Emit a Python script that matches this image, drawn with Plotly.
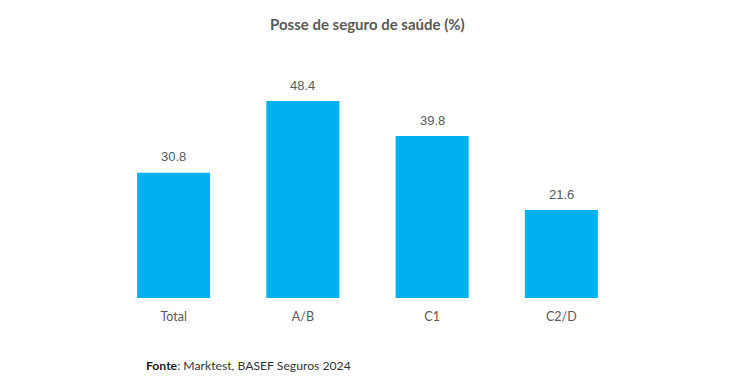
import plotly.graph_objects as go

categories = ["Total", "A/B", "C1", "C2/D"]
values = [30.8, 48.4, 39.8, 21.6]
value_labels = ["30.8", "48.4", "39.8", "21.6"]

L, R, T, B = 109, 114, 60, 91
W, H = 740, 389
pw, ph = W - L - R, H - T - B

fig = go.Figure()
fig.add_trace(go.Bar(
    x=categories, y=values,
    marker=dict(color="#00B0F0", line=dict(width=0)),
    hoverinfo="skip",
))

annotations = []
for c, v, t in zip(categories, values, value_labels):
    annotations.append(dict(
        x=c, y=v, xref="x", yref="y", text=t, showarrow=False,
        yanchor="middle", yshift=16,
        font=dict(family="Liberation Sans, Arial", size=13, color="#595959")))

annotations.append(dict(
    text="<b>Posse de seguro de saúde (%)</b>",
    x=(367 - L) / pw, y=(H - 24 - B) / ph, xanchor="center", yanchor="middle",
    xref="paper", yref="paper", showarrow=False,
    font=dict(family="Lato", size=15, color="#595959")))
annotations.append(dict(
    text="<b><span style='color:#1a1a1a'>Fonte</span></b>: Marktest, BASEF Seguros 2024",
    x=(144 - L) / pw, y=(H - 366 - B) / ph, xanchor="left", yanchor="middle",
    xref="paper", yref="paper", showarrow=False,
    font=dict(family="Lato", size=12.2, color="#333333")))

fig.update_layout(
    width=W, height=H,
    margin=dict(l=L, r=R, t=T, b=B),
    paper_bgcolor="white", plot_bgcolor="white",
    bargap=0.435,
    showlegend=False,
    hovermode=False,
    xaxis=dict(showline=False, showgrid=False, ticks="outside", ticklen=7,
               tickcolor="rgba(0,0,0,0)",
               tickfont=dict(family="Lato, Noto Sans", size=12.5, color="#595959")),
    yaxis=dict(range=[0, 58.5], visible=False, showgrid=False, zeroline=False),
    annotations=annotations,
)

fig.write_html("out.html", config={"displayModeBar": False},
               post_script="document.body.style.margin='0';")
